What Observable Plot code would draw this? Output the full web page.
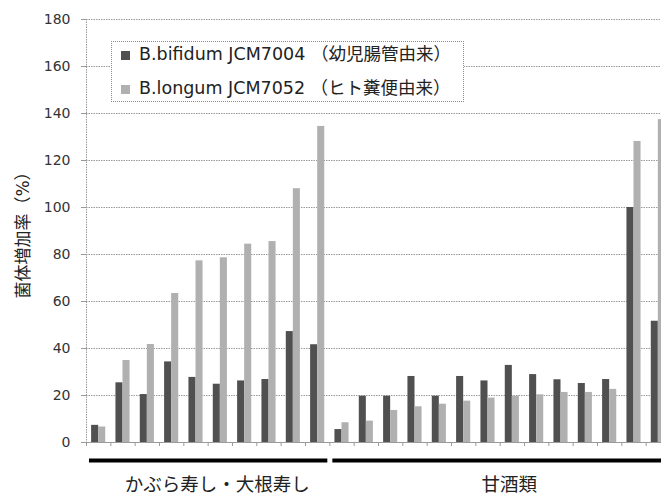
<!DOCTYPE html>
<html><head><meta charset="utf-8">
<script src="https://cdn.jsdelivr.net/npm/d3@7"></script>
<script src="https://cdn.jsdelivr.net/npm/@observablehq/plot@0.6"></script>
<style>
body{margin:0;background:#fff;}
#wrap{position:relative;width:661px;height:494px;overflow:hidden;background:#fff;}
#legend{position:absolute;left:111px;top:41px;width:351px;height:59px;border:1px dotted #8a8a8a;background:#fff;
  font-family:"DejaVu Sans","Noto Sans CJK JP",sans-serif;font-size:17.5px;color:#222;}
#legend .row{position:absolute;left:9px;height:20px;line-height:20px;white-space:nowrap;}
#legend .sw{display:inline-block;width:9px;height:9px;margin-right:9px;vertical-align:0px;}
</style>
</head><body>
<div id="wrap"><div id="chart"></div><div id="legend"></div></div>
<script>
// ---- data ----
const groupNames = ["かぶら寿し・大根寿し", "甘酒類"];
const groupCounts = [10, 14];
const seriesNames = ["B.bifidum JCM7004 （幼児腸管由来）", "B.longum JCM7052 （ヒト糞便由来）"];
const bifidum = [7.3, 25.4, 20.4, 34.3, 27.7, 24.8, 26.2, 26.8, 47.2, 41.6,
                 5.5, 19.7, 19.7, 28.1, 19.7, 28.1, 26.2, 32.8, 28.9, 26.7, 25.1, 26.8, 100, 51.6];
const longum  = [6.6, 34.9, 41.7, 63.4, 77.3, 78.6, 84.4, 85.5, 108, 134.5,
                 8.4, 9.1, 13.6, 15.2, 16.3, 17.6, 18.9, 19.7, 20.3, 21.3, 21.3, 22.6, 128.1, 137.4];
const yTicks = [0, 20, 40, 60, 80, 100, 120, 140, 160, 180];
const yLabel = "菌体増加率（%）";

const colors = ["#505050", "#b0b0b0"];
const font = '"DejaVu Sans","Noto Sans CJK JP",sans-serif';

const n = bifidum.length;
const idx = d3.range(n);
let start = 0;
const groups = groupNames.map((name, g) => {
  const s = start; start += groupCounts[g];
  return {name, start: s, end: start, mid: (s + start) / 2};
});

const plot = Plot.plot({
  width: 661, height: 494,
  marginTop: 19, marginBottom: 52, marginLeft: 86, marginRight: 0,
  style: {fontFamily: font, fontSize: "14px", color: "#333", background: "#fff", overflow: "hidden"},
  x: {type: "linear", domain: [0, n], range: [86, 670]},
  y: {domain: [0, 180]},
  marks: [
    Plot.ruleY(yTicks.filter(d => d > 0), {stroke: "#9a9a9a", strokeDasharray: "1.5,1"}),
    Plot.rectY(idx, {x1: i => i + 0.21, x2: i => i + 0.5, y1: 0, y2: i => bifidum[i], fill: colors[0]}),
    Plot.rectY(idx, {x1: i => i + 0.5, x2: i => i + 0.79, y1: 0, y2: i => longum[i], fill: colors[1]}),
    Plot.ruleY([0], {stroke: "#9a9a9a"}),
    Plot.ruleX([0], {stroke: "#9a9a9a", strokeDasharray: "1.5,1"}),
    Plot.axisX({ticks: d3.range(0, n + 1), tickSize: 4, tickFormat: () => "", stroke: "#9a9a9a", label: null}),
    Plot.axisY({ticks: yTicks, tickSize: 5, tickPadding: 11, fontSize: 14, stroke: "#9a9a9a", label: null}),
    Plot.ruleY(groups, {x1: "start", x2: "end", y: () => 0, dy: 18, strokeWidth: 4, stroke: "#000", insetLeft: 3, insetRight: 2}),
    Plot.text(groups, {x: "mid", y: () => 0, text: "name", dy: 43, dx: 9, fontSize: 18.5, fill: "#222"}),
    Plot.text([yLabel], {frameAnchor: "left", text: d => d, rotate: -90, dx: -63, textAnchor: "middle", fontSize: 17, fill: "#222"})
  ]
});
document.getElementById("chart").appendChild(plot);

// legend
const leg = document.getElementById("legend");
seriesNames.forEach((name, k) => {
  const row = document.createElement("div");
  row.className = "row";
  row.style.top = (2 + k * 34) + "px";
  const sw = document.createElement("span");
  sw.className = "sw"; sw.style.background = colors[k];
  row.appendChild(sw);
  row.appendChild(document.createTextNode(name));
  leg.appendChild(row);
});
</script>
</body></html>
